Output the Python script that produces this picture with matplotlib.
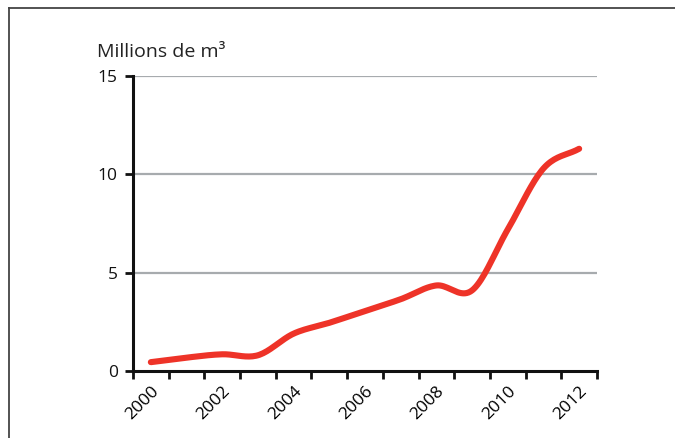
import numpy as np
import matplotlib.pyplot as plt
from matplotlib.lines import Line2D

# Annual volume, millions of m3
years = np.arange(2000, 2013)
volume = [0.45, 0.68, 0.85, 0.8, 1.9, 2.45, 3.05, 3.65, 4.35, 4.1, 7.2, 10.3, 11.3]
year_labels = ['2000', '2002', '2004', '2006', '2008', '2010', '2012']
y_ticks = [0, 5, 10, 15]


def smooth(x, y, n=20):
    # Catmull-Rom curve through the yearly points
    x = np.asarray(x, float)
    y = np.asarray(y, float)
    px = np.concatenate([[2 * x[0] - x[1]], x, [2 * x[-1] - x[-2]]])
    py = np.concatenate([[2 * y[0] - y[1]], y, [2 * y[-1] - y[-2]]])
    xs, ys = [], []
    t = np.linspace(0, 1, n, endpoint=False)
    for i in range(1, len(px) - 2):
        for p, out in ((px, xs), (py, ys)):
            p0, p1, p2, p3 = p[i - 1], p[i], p[i + 1], p[i + 2]
            out.extend(0.5 * (2 * p1 + (-p0 + p2) * t
                              + (2 * p0 - 5 * p1 + 4 * p2 - p3) * t ** 2
                              + (-p0 + 3 * p1 - 3 * p2 + p3) * t ** 3))
    xs.append(x[-1])
    ys.append(y[-1])
    return np.array(xs), np.array(ys)


plt.rcParams['font.family'] = ['Open Sans', 'DejaVu Sans']

fig = plt.figure(figsize=(6.75, 4.38), dpi=100)
ax = fig.add_axes([133 / 675, 1 - 371 / 438, (597 - 133) / 675, (371 - 76) / 438])

x = years - 2000
sx, sy = smooth(x, volume)
ax.plot(sx, sy, color='#ee3328', lw=4.4, solid_capstyle='round', zorder=3)

ax.set_xlim(-0.5, 12.5)
ax.set_ylim(0, 15)

for v in y_ticks[1:]:
    ax.axhline(v, color='#a7abae', lw=1.6, zorder=1)

for s in ['top', 'right']:
    ax.spines[s].set_visible(False)
for s in ['left', 'bottom']:
    ax.spines[s].set_linewidth(2.2)
    ax.spines[s].set_color('#111111')

ax.set_yticks(y_ticks)
ax.tick_params(axis='y', length=6, width=2, labelsize=12.5, pad=5, colors='#111111')

ax.set_xticks(np.arange(-0.5, 13, 1))
ax.set_xticklabels([])
ax.tick_params(axis='x', which='major', length=6, width=2, direction='out', colors='#111111')
ax.set_xticks(np.arange(0, 13, 2), minor=True)
ax.set_xticklabels(year_labels, minor=True, rotation=45, ha='right',
                   rotation_mode='anchor', fontsize=12.5)
ax.tick_params(axis='x', which='minor', length=0, pad=9)

fig.text(97 / 675, 1 - 57 / 438, 'Millions de m³', fontsize=14, color='#222222')

# frame around the figure
fig.add_artist(Line2D([9 / 675, 9 / 675], [0, 1 - 8 / 438], color='#444444', lw=1.3,
                      transform=fig.transFigure))
fig.add_artist(Line2D([9 / 675, 1], [1 - 8 / 438, 1 - 8 / 438], color='#444444', lw=1.3,
                      transform=fig.transFigure))

fig.savefig('out.png', dpi=100)
